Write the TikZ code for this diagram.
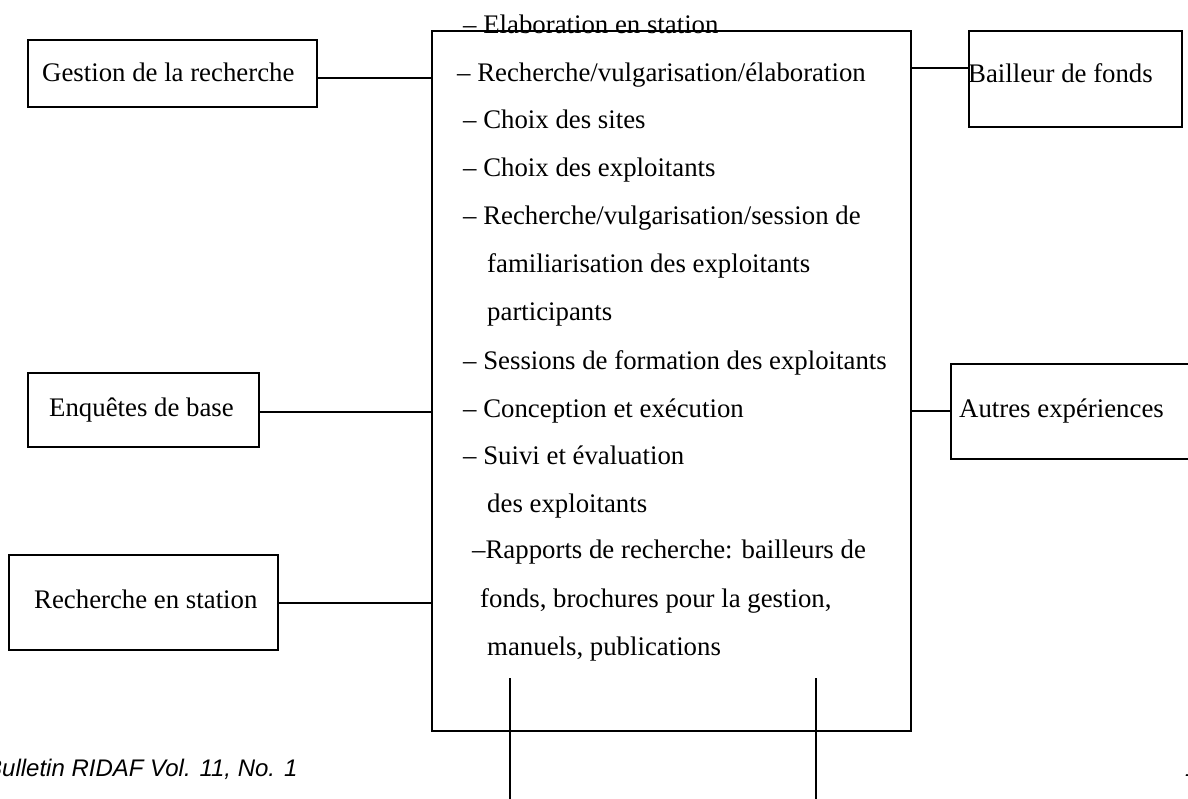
\documentclass[tikz,border=0pt]{standalone}
\usepackage{fontspec}
\setmainfont{Liberation Serif}
\newfontfamily\footfont{Liberation Sans}
\begin{document}
\begin{tikzpicture}[x=1pt,y=-1pt,
  box/.style={draw,line width=1.8pt,rectangle,inner sep=0pt},
  conn/.style={line width=1.8pt},
  txt/.style={inner sep=0pt,anchor=base west,font=\fontsize{26.8}{30}\selectfont},
  foot/.style={inner sep=0pt,anchor=base west,font=\footfont\itshape\fontsize{24}{28}\selectfont}]
\useasboundingbox (0,0) rectangle (1188,799);
% boxes
\node[box,minimum width=479pt,minimum height=700pt] (main) at (671.5,381) {};
\node[box,minimum width=289pt,minimum height=67pt] (g) at (172.5,73.5) {};
\node[box,minimum width=231pt,minimum height=74pt] (e) at (143.5,410) {};
\node[box,minimum width=269pt,minimum height=95pt] (r) at (143.5,602.5) {};
\node[box,minimum width=213pt,minimum height=96pt] (b) at (1075.5,79) {};
\node[box,minimum width=260pt,minimum height=95pt] (a) at (1081,411.5) {};
% box labels
\node[txt] (gt) at (42,82) {Gestion de la recherche};
\node[txt] (et) at (49,416) {Enquêtes de base};
\node[txt] (rt) at (34,608) {Recherche en station};
\node[txt] (bt) at (968,83) {Bailleur de fonds};
\node[txt] (at) at (959,417) {Autres expériences};
% main text
\node[txt] (l1) at (463,34) {– Elaboration en station};
\node[txt] (l2) at (457,82) {– Recherche/vulgarisation/élaboration};
\node[txt] (l3) at (463,129) {– Choix des sites};
\node[txt] (l4) at (463,177) {– Choix des exploitants};
\node[txt] (l5) at (463,225) {– Recherche/vulgarisation/session de};
\node[txt] (l6) at (487,273) {familiarisation des exploitants};
\node[txt] (l7) at (487,321) {participants};
\node[txt] (l8) at (463,369) {– Sessions de formation des exploitants};
\node[txt] (l9) at (463,417) {– Conception et exécution};
\node[txt] (l10) at (463,464) {– Suivi et évaluation};
\node[txt] (l11) at (487,512) {des exploitants};
\node[txt] (l12) at (472,558) {–Rapports de recherche: bailleurs de};
\node[txt] (l13) at (480,607) {fonds, brochures pour la gestion,};
\node[txt] (l14) at (487,655) {manuels, publications};
% connectors
\draw[conn] ([yshift=-4.5pt]g.east) -- ([yshift=-4.5pt]g.east -| main.west);
\draw[conn] ([yshift=-2pt]e.east) -- ([yshift=-2pt]e.east -| main.west);
\draw[conn] ([yshift=-0.5pt]r.east) -- ([yshift=-0.5pt]r.east -| main.west);
\draw[conn] ([yshift=11pt]b.west) -- ([yshift=11pt]b.west -| main.east);
\draw[conn] ([yshift=0.5pt]a.west) -- ([yshift=0.5pt]a.west -| main.east);
% bottom lines
\coordinate (v1a) at (510,678);
\coordinate (v1b) at (510,805);
\coordinate (v2a) at (816,678);
\coordinate (v2b) at (816,805);
\draw[conn] (v1a) -- (v1b);
\draw[conn] (v2a) -- (v2b);
% footer
\node[foot] (f1) at (-14,776) {Bulletin RIDAF Vol. 11, No. 1};
\node[foot] (f2) at (1185,776) {1};
\end{tikzpicture}
\end{document}
